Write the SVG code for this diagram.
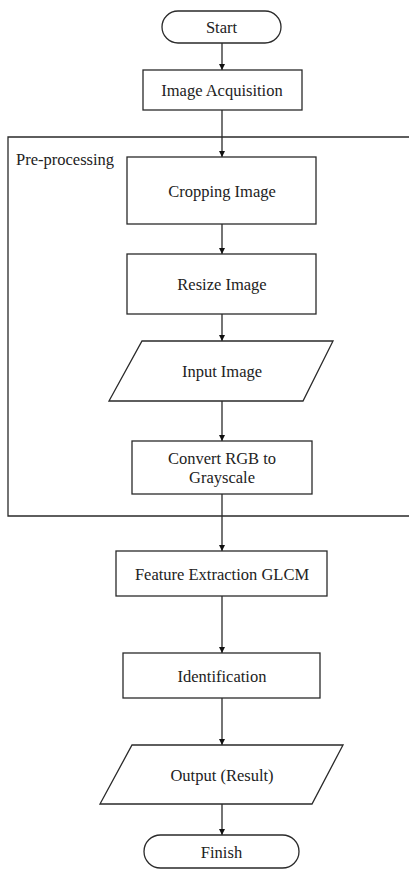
<svg xmlns="http://www.w3.org/2000/svg" width="409" height="869" viewBox="0 0 409 869">
<style>
.s{fill:#fff;stroke:#2a2a2a;stroke-width:1.3}
.t{font-family:'Liberation Serif','DejaVu Serif',serif;font-size:16.5px;fill:#222;text-anchor:middle}
.c{stroke:#2a2a2a;stroke-width:1.3;fill:none}
</style>
<defs>
<marker id="ah" viewBox="0 0 10 10" refX="10" refY="5" markerWidth="6.5" markerHeight="6.5" markerUnits="userSpaceOnUse" orient="auto">
<path d="M0,0 L10,5 L0,10 Z" fill="#111"/>
</marker>
</defs>
<rect width="409" height="869" fill="#fff"/>
<g id="preprocessing">
<path class="c" d="M412,137 H8 V516 H412"/>
<text x="16" y="165" class="t" font-family="Liberation Serif" style="text-anchor:start">Pre-processing</text>
</g>
<g id="connectors">
<line class="c" x1="222" y1="43" x2="222" y2="70" marker-end="url(#ah)"/>
<line class="c" x1="222" y1="110" x2="222" y2="157" marker-end="url(#ah)"/>
<line class="c" x1="222" y1="224" x2="222" y2="254" marker-end="url(#ah)"/>
<line class="c" x1="222" y1="314" x2="222" y2="341" marker-end="url(#ah)"/>
<line class="c" x1="222" y1="401" x2="222" y2="441" marker-end="url(#ah)"/>
<line class="c" x1="222" y1="494" x2="222" y2="551" marker-end="url(#ah)"/>
<line class="c" x1="222" y1="596" x2="222" y2="653" marker-end="url(#ah)"/>
<line class="c" x1="222" y1="698" x2="222" y2="745" marker-end="url(#ah)"/>
<line class="c" x1="222" y1="804" x2="222" y2="835" marker-end="url(#ah)"/>
</g>
<g id="start">
<rect class="s" x="162" y="11" width="119" height="32" rx="16" ry="16"/>
<text x="221.5" y="33" class="t">Start</text>
</g>
<g id="acquisition">
<rect class="s" x="143" y="70" width="159" height="40"/>
<text x="222" y="96" class="t">Image Acquisition</text>
</g>
<g id="cropping">
<rect class="s" x="127" y="157" width="189" height="67"/>
<text x="222" y="196.5" class="t">Cropping Image</text>
</g>
<g id="resize">
<rect class="s" x="127" y="254" width="189" height="60"/>
<text x="222" y="290" class="t">Resize Image</text>
</g>
<g id="input">
<polygon class="s" points="142,341 333,341 303,401 109,401"/>
<text x="222" y="377" class="t">Input Image</text>
</g>
<g id="convert">
<rect class="s" x="132" y="441" width="180" height="53"/>
<text x="222" y="464" class="t">Convert RGB to</text>
<text x="222" y="483" class="t">Grayscale</text>
</g>
<g id="feature">
<rect class="s" x="116" y="551" width="211" height="45"/>
<text x="222" y="579.5" class="t">Feature Extraction GLCM</text>
</g>
<g id="identification">
<rect class="s" x="123" y="653" width="197" height="45"/>
<text x="222" y="681.5" class="t">Identification</text>
</g>
<g id="output">
<polygon class="s" points="132,745 343,745 312,804 100,804"/>
<text x="222" y="780.5" class="t">Output (Result)</text>
</g>
<g id="finish">
<rect class="s" x="144" y="835" width="155" height="33" rx="16.5" ry="16.5"/>
<text x="221.5" y="857.5" class="t">Finish</text>
</g>
</svg>
